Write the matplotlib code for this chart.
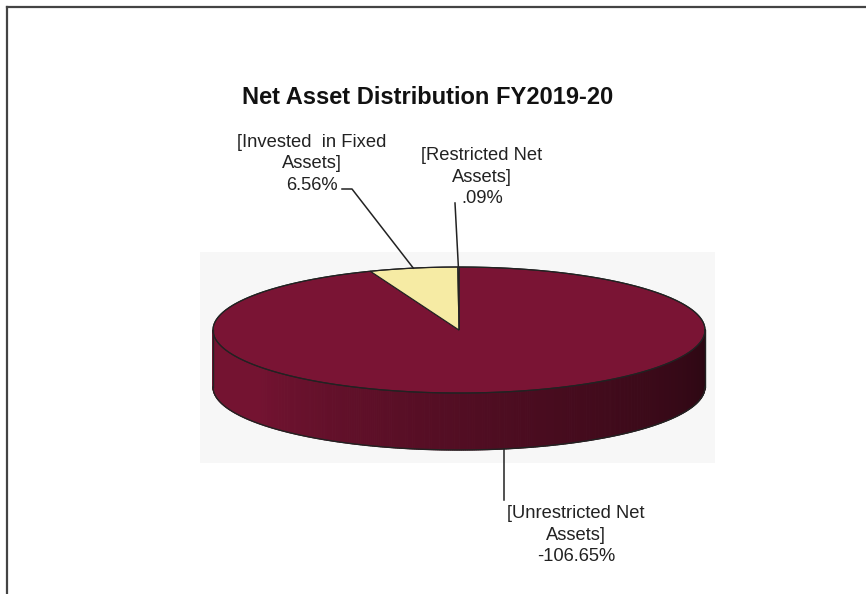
import numpy as np
import matplotlib
matplotlib.use("Agg")
import matplotlib.pyplot as plt
from matplotlib.patches import Polygon, Rectangle
from matplotlib.colors import to_rgb

plt.rcParams['font.family'] = ['Liberation Sans', 'DejaVu Sans']

# ---- data ----------------------------------------------------------------
TITLE = "Net Asset Distribution FY2019-20"
labels = ["Unrestricted Net Assets", "Invested  in Fixed Assets", "Restricted Net Assets"]
pct_text = ["-106.65%", "6.56%", ".09%"]
values = [-106.65, 6.56, 0.09]
colors = ["#7a1434", "#f6eba4", "#c9b8c9"]

# ---- geometry (pixel space) ----------------------------------------------
CX, CY = 459, 330        # centre of the top face
RA, RB = 246, 63         # ellipse semi-axes
DEPTH = 57               # pie thickness
START = 90.0             # degrees, clockwise like Excel


def pt(theta, dy=0.0):
    t = np.radians(theta)
    return CX + RA * np.cos(t), CY - RB * np.sin(t) + dy


def darken(c, f):
    r, g, b = to_rgb(c)
    return (r * f, g * f, b * f)


fig = plt.figure(figsize=(8.66, 5.94), dpi=100)
ax = fig.add_axes([0, 0, 1, 1])
ax.set_xlim(0, 866)
ax.set_ylim(594, 0)
ax.axis("off")

# scanned page frame
ax.plot([7, 7], [594, 7], color="#444444", lw=1.6)
ax.plot([7, 866], [7, 7], color="#444444", lw=1.6)

# faint plot area
ax.add_patch(Rectangle((200, 252), 515, 211, facecolor="#f7f7f7", edgecolor="none"))

# slice angles (absolute values, clockwise from 12 o'clock)
absv = np.abs(values)
spans = absv / absv.sum() * 360.0
edges = START - np.concatenate([[0], np.cumsum(spans)])

# side wall, front half only (180..360 deg)
for i in range(len(values)):
    a0, a1 = edges[i + 1], edges[i]
    ts = np.linspace(a0, a1, max(int(abs(a1 - a0) * 2), 2))
    for t0, t1 in zip(ts[:-1], ts[1:]):
        tm = ((t0 + t1) / 2) % 360
        if not (180 <= tm <= 360):
            continue
        u = (tm - 180) / 180.0          # 0 left .. 1 right
        f = 0.95 - 0.6 * max(0.0, (u - 0.2) / 0.8) ** 0.8
        p = [pt(t0), pt(t1), pt(t1, DEPTH), pt(t0, DEPTH)]
        c = darken(colors[i], f)
        ax.add_patch(Polygon(p, closed=True, facecolor=c, edgecolor=c, lw=0.8))

# outline of side
arc = np.linspace(180, 360, 200)
bx, by = zip(*[pt(t, DEPTH) for t in arc])
ax.plot(bx, by, color="#222222", lw=1.0)
for t in (180, 360):
    (x0, y0), (x1, y1) = pt(t), pt(t, DEPTH)
    ax.plot([x0, x1], [y0, y1], color="#222222", lw=1.0)

# top face wedges
for i in range(len(values)):
    a0, a1 = edges[i + 1], edges[i]
    ts = np.linspace(a0, a1, max(int(abs(a1 - a0) * 2), 3))
    p = [(CX, CY)] + [pt(t) for t in ts]
    ax.add_patch(Polygon(p, closed=True, facecolor=colors[i],
                         edgecolor="#222222", lw=0.8, joinstyle="miter"))

full = np.linspace(0, 360, 400)
ex, ey = zip(*[pt(t) for t in full])
ax.plot(ex, ey, color="#222222", lw=0.9)

# title
ax.text(428, 98, TITLE, ha="center", va="center", fontsize=17,
        fontweight="bold", color="#111111")

# data labels and leaders
mids = (edges[:-1] + edges[1:]) / 2
lab_pos = [(576, 535), (312, 164), (482, 177)]
lab_txt = [
    "[Unrestricted Net\nAssets]\n" + pct_text[0],
    "[Invested  in Fixed\nAssets]\n" + pct_text[1],
    "[Restricted Net\nAssets]\n" + pct_text[2],
]
for (x, y), s in zip(lab_pos, lab_txt):
    ax.text(x, y, s, ha="center", va="center", fontsize=13.2,
            color="#222222", linespacing=1.33)

# unrestricted: leader from bottom edge down to the label
ax_, ay_ = pt(mids[0], DEPTH)
ax.plot([ax_, ax_], [ay_, 500], color="#222222", lw=1.1)
# invested: elbow leader
ix, iy = pt(mids[1])
ax.plot([342, 352, ix], [189, 189, iy], color="#222222", lw=1.1)
# restricted
rx, ry = pt(mids[2])
ax.plot([455, rx], [203, ry], color="#222222", lw=1.1)

fig.savefig("out.png", dpi=100)
